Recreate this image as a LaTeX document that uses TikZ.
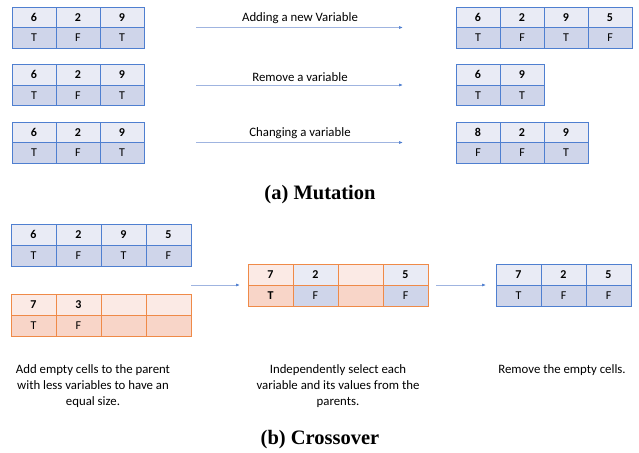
\documentclass[tikz,border=0pt]{standalone}
\usepackage{fontspec}
\usepackage{tikz}
\usetikzlibrary{arrows.meta}
\usetikzlibrary{positioning}
\usetikzlibrary{calc}

\newfontfamily\calibri{Carlito}
\newfontfamily\capserif{Liberation Serif}

\definecolor{tblue}{HTML}{4F7FD0}
\definecolor{btop}{HTML}{E9EBF5}
\definecolor{bbot}{HTML}{CFD5EA}
\definecolor{torange}{HTML}{EF8A48}
\definecolor{otop}{HTML}{FBEAE5}
\definecolor{obot}{HTML}{F8D5C8}
\definecolor{arrline}{HTML}{9FB4E0}

\begin{document}
\begin{tikzpicture}[x=1pt, y=-1pt, >=latex,
    numcell/.style={draw=tblue, fill=btop, line width=0.8pt, minimum width=44pt, minimum height=20.5pt,
                    inner sep=0pt, outer sep=0pt, font=\calibri\fontsize{12}{13}\selectfont\bfseries},
    valcell/.style={numcell, fill=bbot, font=\calibri\fontsize{12}{13}\selectfont},
    wide/.style={minimum width=45pt, minimum height=21pt},
    orange/.style={draw=torange},
    arr/.style={draw=arrline, line width=0.7pt, -{Latex[length=4pt, width=3pt, color=tblue]}},
    label/.style={font=\calibri\fontsize{12.8}{14}\selectfont, inner sep=3.5pt},
    note/.style={font=\calibri\fontsize{12.8}{16}\selectfont, align=center},
    caption/.style={font=\capserif\fontsize{20.5}{24}\selectfont\bfseries}]

        \useasboundingbox (0,0) rectangle (639,452);

        % mutation: the three parents
        \foreach \t/\ty in {p1/7, p2/64.5, p3/122}
          \foreach \num/\val [count=\k] in {6/T, 2/F, 9/T} {
            \node[numcell]                 (\t-\k)   at (-10+44*\k, \ty+10.25) {\num};
            \node[valcell, below=0pt of \t-\k] (\t-\k-v)                        {\val};
          }

        % mutation: the results
        \foreach \num/\val [count=\k] in {6/T, 2/F, 9/T, 5/F} {
            \node[numcell]                 (r1-\k)   at (434+44*\k, 17.25)  {\num};
            \node[valcell, below=0pt of r1-\k] (r1-\k-v)                    {\val};
        }
        \foreach \num/\val [count=\k] in {6/T, 9/T} {
            \node[numcell]                 (r2-\k)   at (434+44*\k, 74.75)  {\num};
            \node[valcell, below=0pt of r2-\k] (r2-\k-v)                    {\val};
        }
        \foreach \num/\val [count=\k] in {8/F, 2/F, 9/T} {
            \node[numcell]                 (r3-\k)   at (434+44*\k, 132.25) {\num};
            \node[valcell, below=0pt of r3-\k] (r3-\k-v)                    {\val};
        }

        \path
          (p1-3.south east) edge [arr, shorten <=52pt, shorten >=53pt] node[label, above] {Adding a new Variable} (r1-1.south west)
          (p2-3.south east) edge [arr, shorten <=52pt, shorten >=53pt] node[label, above] {Remove a variable}     (r2-1.south west)
          (p3-3.south east) edge [arr, shorten <=52pt, shorten >=53pt] node[label, above] {Changing a variable}   (r3-1.south west);

        \node[caption] (capa) at (320,195) {(a) Mutation};

        % crossover: parents
        \foreach \num/\val [count=\k] in {6/T, 2/F, 9/T, 5/F} {
            \node[numcell, wide]                 (cb-\k)   at (-11.5+45*\k, 234.5) {\num};
            \node[valcell, wide, below=0pt of cb-\k] (cb-\k-v)                      {\val};
        }
        \foreach \num/\val [count=\k] in {7/T, 3/F, {}/{}, {}/{}} {
            \node[numcell, wide, orange, fill=otop]                 (co-\k)   at (-11.5+45*\k, 304.5) {\num};
            \node[valcell, wide, orange, fill=obot, below=0pt of co-\k] (co-\k-v)                      {\val};
        }

        % crossover: child with empty cell
        \foreach \num/\val/\ft/\fb [count=\k] in {7/{\bfseries T}/otop/obot, 2/F/btop/bbot, {}/{}/otop/obot, 5/F/btop/bbot} {
            \node[numcell, wide, orange, fill=\ft]                 (cm-\k)   at (225.5+45*\k, 274.5) {\num};
            \node[valcell, wide, orange, fill=\fb, below=0pt of cm-\k] (cm-\k-v)                      {\val};
        }

        % crossover: child
        \foreach \num/\val [count=\k] in {7/T, 2/F, 5/F} {
            \node[numcell, wide]                 (cr-\k)   at (473.5+45*\k, 274.5) {\num};
            \node[valcell, wide, below=0pt of cr-\k] (cr-\k-v)                      {\val};
        }

        \draw[arr, shorten >=8pt] (cm-1.south west -| cb-4.east) -- (cm-1.south west);
        \draw[arr, shorten <=8pt, shorten >=10pt] (cm-4.south east) -- (cr-1.south west);

        \node[note] (addtxt) at (93,386)  {Add empty cells to the parent\\with less variables to have an\\equal size.};
        \node[note] (seltxt) at (338,386) {Independently select each\\variable and its values from the\\parents.};
        \node[note] (remtxt) at (562,370) {Remove the empty cells.};

        \node[caption] (capb) at (320,440) {(b) Crossover};

      \end{tikzpicture}
\end{document}
